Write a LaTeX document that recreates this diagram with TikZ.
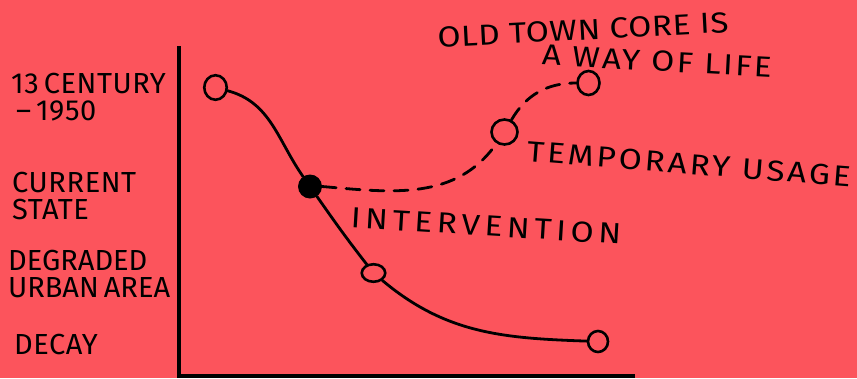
\documentclass[tikz,border=0pt]{standalone}
\usepackage{fontspec}
\setmainfont{Fira Sans}
\usetikzlibrary{shapes.geometric}
\definecolor{bgred}{RGB}{252,84,92}
\newcommand{\lblfont}{\fontsize{29}{26.5}\selectfont\addfontfeature{LetterSpace=2}\spaceskip 5pt\relax}
\newcommand{\tagfont}[1]{\fontsize{29}{29}\selectfont\addfontfeature{FakeStretch=1.15,LetterSpace=#1}}
\tikzset{
  ink/.style={line width=2.8pt, line cap=round, line join=round},
  ring/.style={ellipse, draw, line width=2.6pt, inner sep=0pt},
  lbl/.style={font=\lblfont, align=left, inner sep=0pt, anchor=north west},
  tag/.style={inner sep=0pt}
}
\begin{document}
\begin{tikzpicture}[x=1pt,y=-1pt]
\fill[bgred] (0,0) rectangle (857,378);
\useasboundingbox (0,0) rectangle (857,378);
% axes
\coordinate (ytop) at (179,46);
\coordinate (origin) at (179,376);
\coordinate (xend) at (635,376);
\draw[line width=3.2pt] (ytop) -- (origin) -- (xend);
% points
\node[ring, minimum width=22.5pt, minimum height=24.5pt] (c1) at (215.5,87.5) {};
\node[circle, fill=black, minimum size=24pt, inner sep=0pt] (dot) at (310,186.5) {};
\node[ring, minimum width=23.5pt, minimum height=17.5pt] (c3) at (373.5,273) {};
\node[ring, minimum width=20pt, minimum height=21pt] (c4) at (598,341.5) {};
\node[ring, minimum width=26pt, minimum height=25pt] (c5) at (504.5,132) {};
\node[ring, minimum width=22pt, minimum height=24pt] (c6) at (588.5,83) {};
% solid curve
\draw[ink] (c1) to[out=-15, in=125] (dot);
\draw[ink] (dot) to[out=-55, in=128] (c3);
\draw[ink] (c3) to[out=-40, in=178] (c4);
% dashed curve
\draw[ink, dash pattern=on 14pt off 10pt] (dot.east) to[out=-5, in=-125] (c5);
\draw[ink, dash pattern=on 14pt off 10pt] (c5) to[out=60, in=180] (c6);
% axis labels
\node[lbl] (t1) at (11,73) {13 CENTURY\\\,– 1950};
\node[lbl] (t2) at (12,172) {CURRENT\\STATE};
\node[lbl, font=\lblfont\addfontfeature{LetterSpace=0}] (t3) at (8,250) {DEGRADED\\URBAN AREA};
\node[lbl] (t4) at (14,334) {DECAY};
% curve labels
\node[tag, rotate=3, font=\tagfont{2}] (l1) at (583,30) {OLD TOWN CORE IS};
\node[tag, rotate=-3, font=\tagfont{8}] (l2) at (657,61) {A WAY OF LIFE};
\node[tag, rotate=-4.5, font=\tagfont{10}] (l3) at (689,164) {TEMPORARY USAGE};
\node[tag, rotate=-3.5, font=\tagfont{16}] (l4) at (486,226) {INTERVENTION};
\end{tikzpicture}
\end{document}
